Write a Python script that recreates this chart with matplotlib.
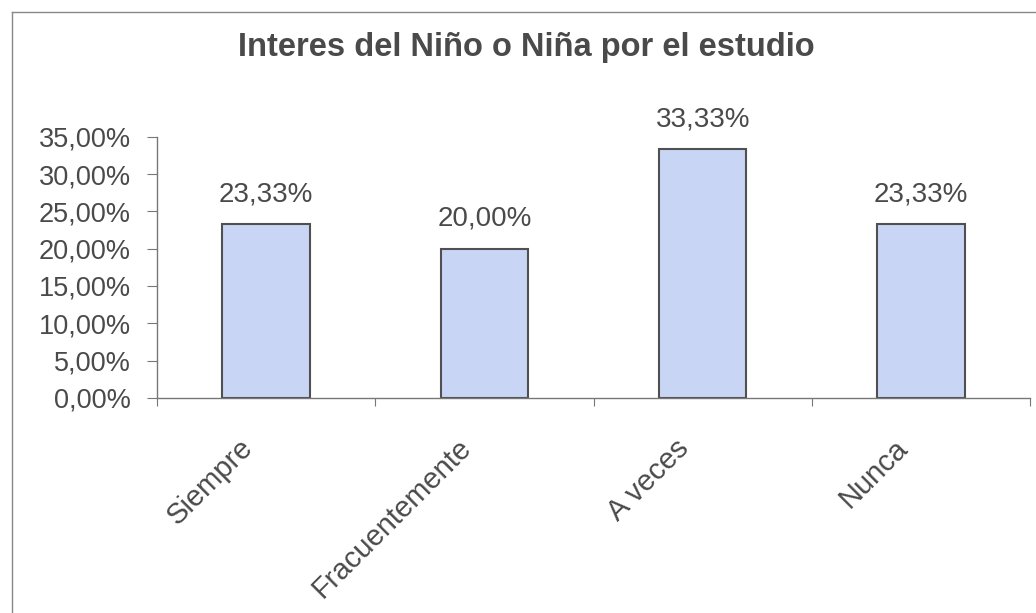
import matplotlib.pyplot as plt
from matplotlib.lines import Line2D

# Datos del gráfico
categorias = ["Siempre", "Fracuentemente", "A veces", "Nunca"]
porcentajes = [23.33, 20.00, 33.33, 23.33]
ticks_y = [0, 5, 10, 15, 20, 25, 30, 35]

gris = "#4a4a4a"
plt.rcParams["font.family"] = ["Liberation Sans", "DejaVu Sans"]

fig = plt.figure(figsize=(10.36, 6.13), dpi=100)
ax = fig.add_axes([0.1515, 0.351, 0.843, 0.426])

x = list(range(len(categorias)))
ax.bar(x, porcentajes, width=0.4, color="#c9d5f5",
       edgecolor="#505050", linewidth=1.5)

# Etiquetas sobre las barras (coma decimal)
for xi, v in zip(x, porcentajes):
    ax.annotate(f"{v:.2f}%".replace(".", ","), (xi, v), xytext=(0, 12),
                textcoords="offset points", ha="center", va="bottom",
                fontsize=20, color=gris)

ax.set_xlim(-0.5, len(categorias) - 0.5)
ax.set_ylim(0, 35)
ax.set_yticks(ticks_y)
ax.set_yticklabels([f"{t:.2f}%".replace(".", ",") for t in ticks_y],
                   fontsize=19.5, color=gris)

# Marcas del eje x entre categorías
ax.set_xticks([i - 0.5 for i in range(len(categorias) + 1)])
ax.set_xticklabels([])
ax.tick_params(axis="x", length=6, color="#777777", direction="out")
ax.tick_params(axis="y", length=7, color="#777777", pad=12)

# Nombres de categoría girados 45°
for xi, nombre in zip(x, categorias):
    ax.annotate(nombre, (xi, 0), xycoords=("data", "axes fraction"),
                xytext=(-20, -26), textcoords="offset points",
                rotation=45, rotation_mode="anchor", ha="right", va="top",
                fontsize=21, color=gris)

for s in ["top", "right"]:
    ax.spines[s].set_visible(False)
for s in ["left", "bottom"]:
    ax.spines[s].set_color("#777777")
    ax.spines[s].set_linewidth(1.0)

fig.text(0.508, 0.922, "Interes del Niño o Niña por el estudio",
         ha="center", va="center", fontsize=23.5, fontweight="bold", color=gris)

# Borde del área del gráfico
fig.add_artist(Line2D([0.012, 0.012], [0, 0.98], transform=fig.transFigure,
                      color="#888888", linewidth=1.0))
fig.add_artist(Line2D([0.012, 1.0], [0.98, 0.98], transform=fig.transFigure,
                      color="#888888", linewidth=1.0))

fig.savefig("out.png", dpi=100)
